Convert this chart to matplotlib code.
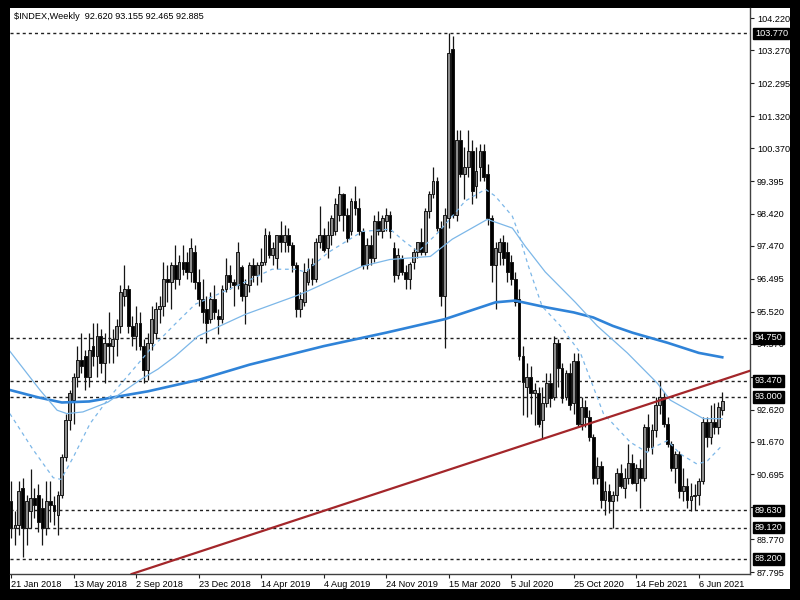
import matplotlib.pyplot as plt
from matplotlib.patches import Rectangle
import numpy as np

plt.rcParams['font.family'] = ['Liberation Sans', 'DejaVu Sans']

# weekly bars, bar 0 = week of 21 Jan 2018
opens = [
    89.9, 89.1, 89.2, 90.3, 89.1, 89.6, 90.0, 90.1, 89.7, 89.1,
    89.9, 89.8, 89.5, 90.1, 91.2, 92.3, 92.9, 93.6, 94.1, 94.2,
    93.6, 94.5, 94.2, 94.8, 94.0, 94.6, 94.5, 94.7, 95.1, 96.0,
    96.2, 95.1, 94.8, 95.2, 94.5, 93.8, 94.6, 94.9, 95.6, 95.7,
    96.5, 96.4, 96.9, 96.5, 97.0, 97.0, 96.7, 97.3, 96.4, 95.9,
    95.6, 95.3, 95.9, 95.4, 95.3, 96.2, 96.6, 96.4, 96.3, 96.85,
    96.0, 96.3, 96.9, 96.6, 96.9, 97.0, 97.8, 97.2, 97.1, 97.8,
    97.6, 97.8, 97.5, 96.9, 95.6, 95.8, 96.4, 96.95, 96.5, 97.6,
    97.8, 97.4, 97.8, 97.9, 98.4, 99.0, 98.4, 97.9, 98.8, 98.6,
    97.9, 96.9, 97.5, 97.1, 98.2, 97.9, 98.2, 98.4, 97.4, 96.6,
    97.1, 96.7, 96.5, 97.0, 97.3, 97.6, 97.3, 98.5, 99.0, 99.4,
    98.0, 96.0, 98.3, 103.3, 98.4, 100.6, 99.6, 99.8, 100.3, 99.25,
    99.8, 100.3, 99.6, 98.3, 96.9, 97.3, 97.6, 97.3, 97.0, 96.5,
    95.9, 94.2, 93.3, 93.6, 93.1, 93.1, 92.3, 92.8, 93.4, 93.0,
    94.6, 93.85, 93.0, 93.7, 92.8, 94.05, 92.2, 92.7, 92.4, 91.8,
    90.6, 90.95, 89.95, 90.2, 89.9, 90.1, 90.75, 90.3, 90.6, 91.05,
    90.45, 90.9, 90.6, 92.1, 91.5, 92.0, 92.75, 93.0, 92.2, 91.6,
    90.9, 91.3, 90.2, 90.35, 89.95, 90.05, 90.1, 90.5, 92.25, 91.8,
    92.25, 92.1, 92.62]
highs = [
    90.5, 89.6, 90.5, 90.6, 90.1, 90.85, 90.3, 90.4, 90.0, 90.5,
    90.5, 90.05, 90.2, 91.3, 92.5, 93.2, 93.7, 94.5, 94.9, 94.4,
    94.9, 95.2, 95.2, 95.0, 94.9, 95.5, 95.0, 95.3, 96.3, 96.9,
    96.3, 95.4, 95.7, 95.5, 94.7, 94.9, 95.7, 95.8, 96.0, 97.0,
    96.9, 97.0, 97.5, 97.2, 97.5, 97.3, 97.7, 97.5, 96.8, 96.5,
    96.0, 96.1, 96.3, 95.6, 96.3, 97.1, 96.9, 96.5, 97.6, 96.9,
    96.5, 97.0, 97.1, 97.0, 97.4, 98.0, 97.9, 97.6, 97.8, 98.2,
    98.1, 98.0, 97.6, 97.0, 96.1, 96.97, 97.1, 97.1, 97.7, 98.65,
    98.0, 98.2, 98.4, 98.9, 99.25, 99.05, 98.6, 98.9, 99.25, 98.9,
    98.0, 97.7, 97.8, 98.4, 98.5, 98.4, 98.6, 98.5, 97.6, 97.4,
    97.2, 96.9, 97.0, 97.4, 97.6, 98.0, 98.6, 99.1, 99.8, 99.5,
    98.2, 98.6, 103.77, 103.7, 100.9, 100.9, 100.4, 100.9, 100.6, 100.4,
    100.5, 100.5, 99.9, 98.4, 97.6, 97.7, 97.8, 97.6, 97.2, 96.7,
    96.2, 94.5, 94.0, 93.9, 93.4, 93.3, 93.3, 93.7, 93.7, 94.8,
    94.7, 94.0, 93.8, 94.0, 94.3, 94.3, 93.0, 92.9, 92.6, 91.9,
    91.2, 91.1, 90.5, 90.4, 90.2, 90.9, 91.0, 90.9, 91.6, 91.3,
    91.0, 91.15, 92.2, 92.5, 92.2, 93.0, 93.47, 93.15, 92.4, 91.7,
    91.4, 91.4, 90.9, 90.6, 90.45, 90.4, 90.6, 92.4, 92.4, 92.75,
    92.8, 92.85, 93.155]
lows = [
    88.8, 88.6, 88.9, 88.25, 88.6, 89.1, 89.4, 89.0, 88.6, 88.9,
    89.3, 89.2, 88.9, 90.0, 91.1, 92.0, 92.2, 93.3, 93.7, 93.2,
    93.3, 93.9, 93.6, 93.7, 93.4, 94.0, 94.0, 94.2, 94.9, 95.7,
    94.9, 94.5, 94.4, 94.4, 93.4, 93.5, 94.4, 94.7, 95.2, 95.4,
    95.8, 95.6, 96.2, 96.3, 96.6, 96.5, 96.4, 96.2, 95.7, 95.2,
    94.6, 95.2, 95.3, 94.85, 95.2, 96.1, 96.2, 95.7, 96.2, 95.85,
    95.15, 96.1, 96.4, 96.3, 96.4, 96.9, 97.1, 96.9, 96.8, 97.3,
    97.3, 97.3, 96.7, 95.35, 95.35, 95.7, 96.3, 96.3, 96.4, 97.4,
    97.3, 97.1, 97.5, 97.8, 98.2, 97.9, 97.6, 97.8, 98.4, 97.8,
    96.8, 96.8, 96.9, 97.0, 97.8, 97.7, 97.9, 97.7, 96.4, 96.5,
    96.6, 96.2, 96.2, 96.8, 97.1, 97.2, 97.2, 98.3, 98.9, 97.9,
    95.7, 94.45, 98.0, 98.3, 98.2, 99.5, 98.85, 99.5, 98.7, 98.9,
    99.4, 99.4, 98.1, 96.4, 95.6, 96.9, 96.9, 96.4, 96.3, 95.7,
    94.1, 92.45, 92.4, 92.5, 92.15, 92.1, 91.75, 92.7, 92.7, 92.9,
    93.3, 92.8, 92.9, 92.6, 92.5, 92.1, 92.0, 92.1, 91.7, 90.4,
    90.4, 89.7, 89.5, 89.55, 89.12, 89.9, 90.3, 90.0, 90.4, 90.4,
    90.2, 89.7, 90.5, 91.4, 91.3, 91.8, 92.5, 92.1, 91.5, 90.8,
    90.45, 90.0, 89.9, 89.7, 89.6, 89.65, 89.8, 90.4, 91.5, 91.6,
    91.9, 91.9, 92.465]
closes = [
    89.1, 89.2, 90.2, 89.1, 89.9, 90.0, 89.8, 89.3, 89.1, 89.9,
    89.8, 89.6, 90.1, 91.2, 92.3, 93.1, 93.6, 94.1, 93.9, 93.6,
    94.4, 94.2, 94.8, 94.0, 94.6, 94.5, 94.7, 95.1, 96.1, 96.2,
    95.1, 94.8, 95.2, 94.5, 93.8, 94.6, 95.3, 95.6, 95.7, 96.5,
    96.4, 96.9, 96.5, 97.0, 96.8, 96.7, 97.4, 96.4, 95.9, 95.5,
    95.2, 95.9, 95.5, 95.3, 96.2, 96.6, 96.4, 96.3, 97.3, 96.0,
    96.35, 96.9, 96.6, 96.9, 97.0, 97.8, 97.2, 97.4, 97.8, 97.6,
    97.8, 97.5, 96.9, 95.6, 95.9, 96.7, 96.8, 96.5, 97.6, 97.8,
    97.35, 97.8, 98.3, 98.7, 99.0, 98.4, 97.7, 98.8, 98.6, 97.9,
    96.9, 97.5, 97.1, 98.2, 97.9, 98.3, 98.4, 97.9, 96.6, 97.2,
    96.7, 96.5, 96.95, 97.3, 97.6, 97.3, 98.5, 99.0, 99.4, 98.0,
    96.0, 98.4, 103.2, 98.4, 100.6, 99.6, 99.8, 100.3, 99.1, 99.7,
    100.3, 99.5, 98.3, 96.9, 97.4, 97.6, 97.1, 96.7, 96.5, 95.8,
    94.2, 93.45, 93.6, 93.1, 93.2, 92.2, 92.8, 93.4, 92.95, 94.6,
    93.85, 92.95, 93.7, 92.75, 94.05, 92.2, 92.7, 92.4, 91.8, 90.6,
    90.95, 89.95, 90.2, 89.9, 90.1, 90.75, 90.35, 90.6, 91.05, 90.45,
    90.9, 90.6, 92.1, 91.5, 92.0, 92.75, 93.0, 92.2, 91.6, 90.9,
    91.3, 90.2, 90.35, 89.95, 90.05, 90.1, 90.5, 92.25, 91.8, 92.25,
    92.1, 92.7, 92.885]

# moving averages: (bar position, value)
ma_slow_x = [-0.3, 7, 13, 20, 27, 35, 48, 61, 80, 96, 111, 124, 129, 137,
             144, 149, 154, 159, 168, 176, 182]
ma_slow_y = [93.2, 92.98, 92.83, 92.86, 93.0, 93.16, 93.5, 93.95, 94.5, 94.9,
             95.3, 95.8, 95.85, 95.65, 95.5, 95.35, 95.1, 94.9, 94.6, 94.3, 94.17]
ma_mid_x = [-0.3, 7.4, 11.8, 14.3, 18.4, 24.8, 33.3, 37.6, 42.0, 47.9, 59.9,
            72.7, 75.3, 81, 89.9, 97.0, 107.3, 112.9, 121.9, 128.3, 131.6,
            136.7, 144.4, 150.0, 157.7, 165.4, 168.7, 177.2, 182.0]
ma_mid_y = [94.35, 93.2, 92.6, 92.5, 92.55, 92.84, 93.52, 93.82, 94.2, 94.8,
            95.44, 95.98, 96.1, 96.4, 96.87, 97.07, 97.16, 97.67, 98.26, 98.0,
            97.46, 96.7, 95.8, 95.1, 94.3, 93.4, 92.9, 92.35, 92.35]
ma_fast_x = [-0.3, 5.6, 10.8, 12.8, 15.9, 20.2, 25.3, 31.2, 35.6, 41.5, 47.1,
             52.2, 59.9, 66.8, 72.7, 75.3, 81.2, 89.9, 97.0, 100.9, 104.2,
             109.3, 112.9, 116.2, 121.4, 123.9, 128.3, 129.8, 132.4, 135.9,
             140.6, 145.7, 151.6, 158.5, 162.8, 164.4, 168.0, 171.3, 175.6,
             178.2, 181.5]
ma_fast_y = [92.5, 91.44, 90.6, 90.55, 91.2, 92.2, 93.0, 93.8, 94.4, 95.1, 95.74,
             96.0, 96.4, 96.78, 96.78, 96.7, 97.28, 97.9, 97.97, 97.58, 97.3,
             97.87, 98.35, 98.8, 99.15, 98.95, 98.35, 97.87, 96.87, 95.68,
             95.1, 94.3, 92.5, 91.65, 91.35, 91.5, 91.7, 91.3, 91.0,
             91.1, 91.5]

# trend line anchors (bar, price)
trend_x = [31, 182]
trend_y = [87.75, 93.5]

levels = [103.770, 94.750, 93.470, 93.000, 89.630, 89.120, 88.200]
price_ticks = [104.220, 103.270, 102.295, 101.320, 100.370, 99.395, 98.420,
               97.470, 96.495, 95.520, 94.570, 93.595, 92.620, 91.670,
               90.695, 89.720, 88.770, 87.795]
hidden_ticks = [93.595, 89.720]   # covered by the level boxes
date_pos = [0, 16, 32, 48, 64, 80, 96, 112, 128, 144, 160, 176]
date_labels = ['21 Jan 2018', '13 May 2018', '2 Sep 2018', '23 Dec 2018',
               '14 Apr 2019', '4 Aug 2019', '24 Nov 2019', '15 Mar 2020',
               '5 Jul 2020', '25 Oct 2020', '14 Feb 2021', '6 Jun 2021']
title = r'\$INDEX,Weekly  92.620 93.155 92.465 92.885'

o = np.array(opens)
h = np.array(highs)
l = np.array(lows)
c = np.array(closes)
idx = np.arange(len(o))

fig = plt.figure(figsize=(8, 6), dpi=100, facecolor='black')
fig.patches.append(Rectangle((10 / 800, 11 / 600), 780 / 800, 581 / 600,
                             transform=fig.transFigure, facecolor='white',
                             edgecolor='none', zorder=-10))
ax = fig.add_axes([10 / 800, 26 / 600, 740 / 800, 566 / 600])
ax.set_zorder(1)
ax.set_facecolor('white')

# horizontal levels
for v in levels:
    ax.axhline(v, color='#202020', lw=1.0, ls=(0, (2.2, 2.2)), zorder=2)

# candles
up = c >= o
body_col = np.where(up, '#8c8c8c', '#000000')
ax.vlines(idx, l, h, color='#151515', lw=0.9, zorder=3)
ax.bar(idx, np.maximum(np.abs(c - o), 0.03), bottom=np.minimum(o, c),
       width=0.72, color=body_col, edgecolor='#151515', linewidth=0.7, zorder=4)

# moving averages
ax.plot(ma_slow_x, ma_slow_y, color='#2f83d8', lw=1.9, zorder=5)
ax.plot(ma_mid_x, ma_mid_y, color='#7cb7e8', lw=0.9, zorder=5)
ax.plot(ma_fast_x, ma_fast_y, color='#7cb7e8', lw=0.9, ls=(0, (3, 3)), zorder=5)

# trend line
ax.axline((trend_x[0], trend_y[0]), (trend_x[1], trend_y[1]),
          color='#a3262a', lw=1.6, zorder=6)

ax.set_xlim(-0.26, 189.1)
ax.set_ylim(87.745, 104.525)

for s in ['left', 'top']:
    ax.spines[s].set_visible(False)
for s in ['right', 'bottom']:
    ax.spines[s].set_color('#404040')
    ax.spines[s].set_linewidth(1.0)

ax.yaxis.tick_right()
ax.set_yticks(price_ticks)
ax.set_yticklabels(['' if v in hidden_ticks else f'{v:.3f}' for v in price_ticks])
ax.tick_params(axis='y', length=3, width=0.8, pad=2, labelsize=6.6,
               colors='#202020', labelcolor='black')
ax.set_xticks(date_pos)
ax.set_xticklabels(date_labels)
ax.tick_params(axis='x', length=3, width=0.8, pad=1.5, labelsize=6.6,
               colors='#202020', labelcolor='black')
for lbl in ax.get_xticklabels():
    lbl.set_ha('left')

for v in levels:
    ax.annotate(f'{v:.3f}', xy=(1, v), xycoords=('axes fraction', 'data'),
                xytext=(3.5, 0), textcoords='offset points', va='center',
                ha='left', color='white', fontsize=6.6, annotation_clip=False,
                bbox=dict(boxstyle='square,pad=0.15', fc='black', ec='black'),
                zorder=10)

ax.text(0.006, 0.993, title, transform=ax.transAxes, ha='left', va='top',
        fontsize=6.6, color='black', zorder=10)

fig.savefig('out.png', dpi=100, facecolor='black')
